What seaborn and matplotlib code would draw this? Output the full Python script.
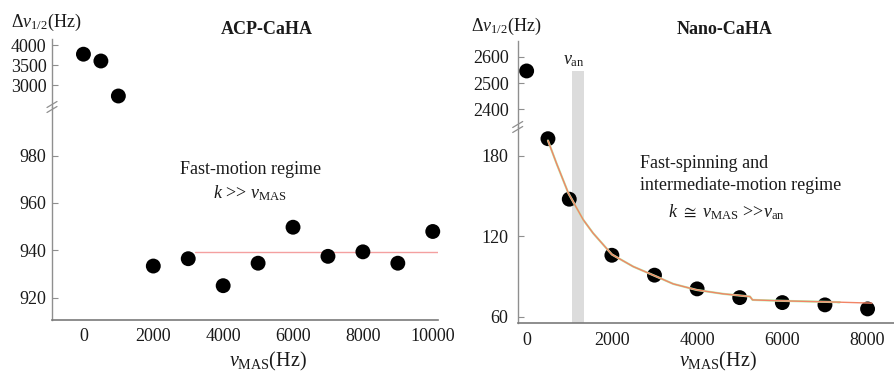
import numpy as np
import pandas as pd
import matplotlib
matplotlib.use("Agg")
import matplotlib.pyplot as plt
import seaborn as sns
from matplotlib.lines import Line2D

# ---- ACP-CaHA linewidths ----
acp_x_high = [0, 500, 1000]
acp_y_high = [3770, 3600, 2725]
acp_x_low = [2000, 3000, 4000, 5000, 6000, 7000, 8000, 9000, 10000]
acp_y_low = [933.3, 936.4, 925.0, 934.5, 949.7, 937.4, 939.3, 934.5, 947.9]
acp_fit_x = [3200, 10150]
acp_fit_y = [939.2, 939.2]

# ---- Nano-CaHA linewidths ----
nano_x_high = [0]
nano_y_high = [2546]
nano_x_low = [500, 1000, 2000, 3000, 4000, 5000, 6000, 7000, 8000]
nano_y_low = [192.6, 147.6, 105.9, 91.1, 80.9, 74.4, 70.7, 69.0, 66.0]
nano_fit_x = [500, 700, 980, 1330, 1560, 2000, 2500, 3050, 3440, 3990, 4610,
              5240, 5300, 6000, 7350, 8100]
nano_fit_y = [191.2, 174.3, 152.0, 132.2, 122.3, 106.5, 97.5, 90.0, 84.6, 80.1,
              77.2, 75.2, 72.7, 72.0, 71.0, 70.3]
nano_fit2_x = nano_fit_x[:-1] + [7300]
nano_fit2_y = nano_fit_y[:-1] + [71.0]
nu_an_band = (1070, 1340)

sns.set_theme(style="white")
plt.rcParams["font.family"] = ["Liberation Serif", "DejaVu Serif"]
plt.rcParams["mathtext.fontset"] = "custom"
plt.rcParams["mathtext.rm"] = "Liberation Serif"
plt.rcParams["mathtext.it"] = "Liberation Serif:italic"
plt.rcParams["mathtext.bf"] = "Liberation Serif:bold"
plt.rcParams["mathtext.fallback"] = "stix"

W, H = 894, 373
fig = plt.figure(figsize=(W / 100, H / 100), dpi=100)
fig.patch.set_facecolor("white")

SPINE = "#8f8f8f"
TXT = "#1a1a1a"


def px_rect(x0, x1, ytop, ybot):
    return [x0 / W, 1 - ybot / H, (x1 - x0) / W, (ybot - ytop) / H]


def fx(x):
    return x / W


def fy(y):
    return 1 - y / H


def style_axis(ax, bottom, ypad):
    for s in ["top", "right"]:
        ax.spines[s].set_visible(False)
    ax.spines["left"].set_color(SPINE)
    ax.spines["left"].set_linewidth(1.0)
    if bottom:
        ax.spines["bottom"].set_color("#7a7a7a")
        ax.spines["bottom"].set_linewidth(1.2)
        ax.tick_params(axis="x", direction="in", length=4, width=0.8,
                       color=SPINE, labelsize=13, pad=6, labelcolor=TXT)
    else:
        ax.spines["bottom"].set_visible(False)
        ax.tick_params(axis="x", bottom=False, labelbottom=False)
    ax.tick_params(axis="y", direction="in", length=4, width=0.8, color=SPINE,
                   labelsize=13, pad=ypad, labelcolor=TXT, left=True)
    ax.set_xlabel("")
    ax.set_ylabel("")
    ax.patch.set_alpha(0)


def break_marks(ax_low):
    # "//" across the y-axis where the scale is broken
    bb = ax_low.get_position()
    x0 = bb.x0 * W
    y0 = (1 - bb.y1) * H
    for dy in (-2.5, 2.5):
        fig.add_artist(Line2D(
            [fx(x0 - 5), fx(x0 + 5)], [fy(y0 + dy + 3), fy(y0 + dy - 3)],
            transform=fig.transFigure, color=SPINE, lw=0.9))


# ================= Left panel: ACP-CaHA =================
axL_hi = fig.add_axes(px_rect(52, 438, 39, 107))
axL_lo = fig.add_axes(px_rect(52, 438, 107, 320))

df_acp_hi = pd.DataFrame({"x": acp_x_high, "y": acp_y_high})
df_acp_lo = pd.DataFrame({"x": acp_x_low, "y": acp_y_low})
df_acp_fit = pd.DataFrame({"x": acp_fit_x, "y": acp_fit_y})

sns.lineplot(data=df_acp_fit, x="x", y="y", ax=axL_lo, color="#f4a0a0",
             lw=1.0, estimator=None, sort=False)
sns.scatterplot(data=df_acp_hi, x="x", y="y", ax=axL_hi, color="black",
                s=115, edgecolor="none", zorder=5, clip_on=False)
sns.scatterplot(data=df_acp_lo, x="x", y="y", ax=axL_lo, color="black",
                s=115, edgecolor="none", zorder=5, clip_on=False)

xlimL = (-900, 10150)
axL_hi.set_xlim(xlimL)
axL_lo.set_xlim(xlimL)
axL_hi.set_ylim(2450, 4150)
axL_lo.set_ylim(910.5, 1000.5)
axL_hi.set_yticks([3000, 3500, 4000])
axL_lo.set_yticks([920, 940, 960, 980])
axL_lo.set_xticks([0, 2000, 4000, 6000, 8000, 10000])
style_axis(axL_hi, False, 4)
style_axis(axL_lo, True, 4)
break_marks(axL_lo)

# ================= Right panel: Nano-CaHA =================
axR_hi = fig.add_axes(px_rect(517.7, 894, 40.7, 127))
axR_lo = fig.add_axes(px_rect(517.7, 894, 127, 323.3))

df_nano_hi = pd.DataFrame({"x": nano_x_high, "y": nano_y_high})
df_nano_lo = pd.DataFrame({"x": nano_x_low, "y": nano_y_low})
df_fit = pd.DataFrame({"x": nano_fit_x, "y": nano_fit_y})
df_fit2 = pd.DataFrame({"x": nano_fit2_x, "y": nano_fit2_y})

axR_lo.axvspan(*nu_an_band, color="#dcdcdc", lw=0, zorder=0)
axR_hi.fill_between(list(nu_an_band), 2333, 2545, color="#dcdcdc", lw=0, zorder=0)

sns.lineplot(data=df_fit2, x="x", y="y", ax=axR_lo, color="#b6f0ae",
             lw=1.6, estimator=None, sort=False, zorder=2)
sns.lineplot(data=df_fit, x="x", y="y", ax=axR_lo, color="#f28466",
             lw=1.0, estimator=None, sort=False, zorder=3)
sns.scatterplot(data=df_nano_hi, x="x", y="y", ax=axR_hi, color="black",
                s=115, edgecolor="none", zorder=5, clip_on=False)
sns.scatterplot(data=df_nano_lo, x="x", y="y", ax=axR_lo, color="black",
                s=115, edgecolor="none", zorder=1, clip_on=False)

xlimR = (-210, 8620)
axR_hi.set_xlim(xlimR)
axR_lo.set_xlim(xlimR)
axR_hi.set_ylim(2333, 2661)
axR_lo.set_ylim(55.3, 201.3)
axR_hi.set_yticks([2400, 2500, 2600])
axR_lo.set_yticks([60, 120, 180])
axR_lo.set_xticks([0, 2000, 4000, 6000, 8000])
style_axis(axR_hi, False, 6)
style_axis(axR_lo, True, 7)
break_marks(axR_lo)

# ================= Text =================
ylab = r"$\Delta\nu_{1/2}$(Hz)"
fig.text(fx(11), fy(22), ylab, fontsize=13, ha="left", va="center", color=TXT)
fig.text(fx(471), fy(26), ylab, fontsize=13, ha="left", va="center", color=TXT)

fig.text(fx(267), fy(29), "ACP-CaHA", fontsize=13, fontweight="bold",
         ha="center", va="center", color=TXT)
fig.text(fx(725), fy(29), "Nano-CaHA", fontsize=13, fontweight="bold",
         ha="center", va="center", color=TXT)

xlab = r"$\nu_{\rm MAS}$(Hz)"
fig.text(fx(268), fy(366), xlab, fontsize=14.5, ha="center", va="baseline", color=TXT)
fig.text(fx(718), fy(366), xlab, fontsize=14.5, ha="center", va="baseline", color=TXT)

fig.text(fx(251), fy(169), "Fast-motion regime", fontsize=13, ha="center",
         va="center", color=TXT)
fig.text(fx(250), fy(193), r"$k$ >> $\nu_{\rm MAS}$", fontsize=13, ha="center",
         va="center", color=TXT)

fig.text(fx(640), fy(163), "Fast-spinning and", fontsize=13, ha="left",
         va="center", color=TXT)
fig.text(fx(640), fy(185), "intermediate-motion regime", fontsize=13, ha="left",
         va="center", color=TXT)
fig.text(fx(668), fy(212), r"$k$ $\cong$ $\nu_{\rm MAS}$ >>$\nu_{\rm an}$",
         fontsize=13, ha="left", va="center", color=TXT)

fig.text(fx(563), fy(60), r"$\nu_{\rm an}$", fontsize=13, ha="left",
         va="center", color=TXT)

fig.savefig("out.png", dpi=100, facecolor="white")
